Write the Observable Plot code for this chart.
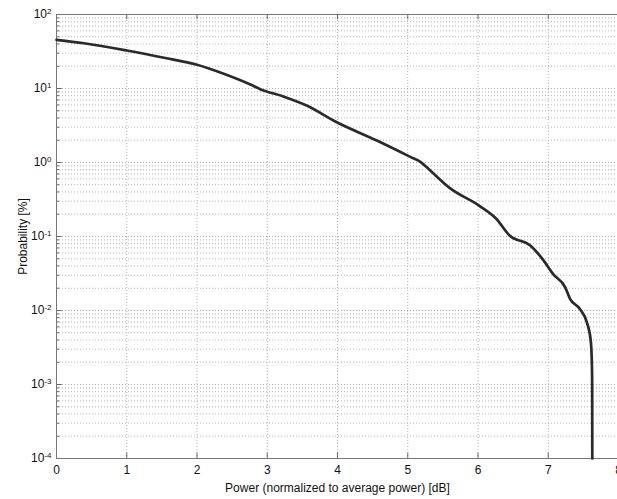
<!DOCTYPE html>
<html><head><meta charset="utf-8">
<script src="https://cdn.jsdelivr.net/npm/d3@7"></script>
<script src="https://cdn.jsdelivr.net/npm/@observablehq/plot@0.6"></script>
<style>
html,body{margin:0;padding:0;background:#fff;overflow:hidden;}
svg{max-width:none !important;}
</style></head><body><div id="chart"></div>
<script>
const power = [0, 0.39, 1.0, 1.53, 2.0, 2.38, 2.76, 2.9, 3.23, 3.56, 3.99, 4.56, 5.03, 5.18, 5.32, 5.6, 6.02, 6.26, 6.45, 6.74, 6.93, 7.07, 7.24, 7.31, 7.45, 7.55, 7.605, 7.62, 7.625, 7.627];
const prob = [45.5, 40.9, 32.6, 26, 20.9, 15.8, 11.3, 9.8, 7.8, 5.9, 3.5, 1.98, 1.2, 1.02, 0.78, 0.45, 0.26, 0.174, 0.103, 0.076, 0.048, 0.031, 0.0207, 0.0144, 0.0105, 0.0069, 0.0039, 0.0021, 0.001, 0.0001];
const xTicks = [0, 1, 2, 3, 4, 5, 6, 7, 8];
const yDecades = [1e-4, 1e-3, 1e-2, 1e-1, 1, 10, 100];
const minorMult = [2, 3, 4, 5, 6, 7, 8, 9];

const minorTicks = [];
for (const d of yDecades.slice(0, -1)) for (const m of minorMult) minorTicks.push(d * m);
const rows = power.map((p, i) => ({p, v: prob[i]}));

const chart = Plot.plot({
  width: 624, height: 499,
  marginLeft: 56, marginRight: 6, marginTop: 14, marginBottom: 41,
  style: {fontFamily: "'Liberation Sans', Arial, sans-serif", fontSize: "12px", color: "#111", background: "#fff", maxWidth: "none"},
  x: {domain: [0, 8]},
  y: {type: "log", domain: [1e-4, 1e2]},
  marks: [
    Plot.gridY(minorTicks, {stroke: "#b4b4b4", strokeOpacity: 1, strokeDasharray: "1,2"}),
    Plot.gridY(yDecades, {stroke: "#aaa", strokeOpacity: 1, strokeDasharray: "1,2"}),
    Plot.gridX(xTicks, {stroke: "#b4b4b4", strokeOpacity: 1, strokeDasharray: "1,2"}),
    Plot.ruleY(minorTicks, {x1: 0, x2: 0.045, stroke: "#666"}),
    Plot.ruleY(yDecades, {x1: 0, x2: 0.08, stroke: "#666"}),
    Plot.ruleX(xTicks, {y1: 1e-4, y2: 1.18e-4, stroke: "#666"}),
    Plot.ruleX(xTicks, {y1: 100, y2: 85, stroke: "#666"}),
    Plot.frame({stroke: "#777"}),
    Plot.axisX(xTicks, {tickSize: 0, tickPadding: 7, label: "Power (normalized to average power) [dB]", labelAnchor: "center", labelOffset: 33, labelArrow: "none"}),
    Plot.axisY(yDecades, {tickSize: 0, tickPadding: 5, tickFormat: d => String(Math.round(Math.log10(d))), label: "Probability [%]", labelAnchor: "center", labelOffset: 38, labelArrow: "none"}),
    Plot.line(rows, {x: "p", y: "v", stroke: "#2a2a2a", strokeWidth: 2.7, curve: "monotone-x"})
  ]
});

d3.select(chart).selectAll('g[aria-label="y-axis tick label"] text').each(function() {
  const e = this.textContent;
  const t = d3.select(this);
  t.text("");
  t.append("tspan").text("10");
  t.append("tspan").attr("dy", "-0.6em").attr("font-size", "8px").text(e);
});

document.getElementById("chart").append(chart);
</script>
</body></html>
